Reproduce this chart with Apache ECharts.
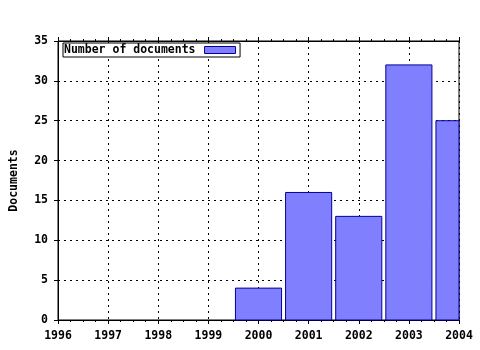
<!DOCTYPE html>
<html><head><meta charset="utf-8">
<script src="https://cdn.jsdelivr.net/npm/echarts@6/dist/echarts.min.js"></script>
<style>html,body{margin:0;padding:0;background:#fff}#c{width:480px;height:350px}</style>
</head><body><div id="c"></div>
<script>
const years = [2000, 2001, 2002, 2003, 2004];
const docs = [4, 16, 13, 32, 25];
const seriesName = 'Number of documents';
const yTitle = 'Documents';

const font = '"DejaVu Sans Mono", monospace';
const barFill = '#8080ff', barEdge = '#000099';
const chart = echarts.init(document.getElementById('c'));
const lbl = {color:'#000', fontFamily:font, fontWeight:'bold', fontSize:11.5};
chart.setOption({
  animation:false,
  backgroundColor:'#fff',
  grid:{left:58, right:21, top:41, bottom:30, show:true, borderColor:'#000', borderWidth:1,
        backgroundColor:'transparent', outerBoundsMode:'none', containLabel:false},
  legend:{
    show:true, left:63, top:43, orient:'horizontal', align:'right',
    padding:[1,4,1,1], borderColor:'#000', borderWidth:1, backgroundColor:'#fff',
    itemWidth:31, itemHeight:7, icon:'rect',
    itemStyle:{color:barFill, borderColor:barEdge, borderWidth:1},
    textStyle:{...lbl, padding:[0,4,0,0]},
    data:[seriesName]
  },
  xAxis:[{
    type:'value', min:1996, max:2004, interval:1,
    axisLine:{show:true, lineStyle:{color:'#000'}},
    axisTick:{show:true, length:4, lineStyle:{color:'#000'}},
    minorTick:{show:true, splitNumber:4, length:2, lineStyle:{color:'#000'}},
    axisLabel:{...lbl, margin:10, formatter:v=>String(v)},
    splitLine:{show:true, lineStyle:{color:'#000', type:[2,4], width:1}}
  },{
    type:'value', min:1996, max:2004, interval:1, position:'top',
    axisLine:{show:true, lineStyle:{color:'#000'}},
    axisTick:{show:true, length:4, lineStyle:{color:'#000'}},
    minorTick:{show:true, splitNumber:4, length:2, lineStyle:{color:'#000'}},
    axisLabel:{show:false}, splitLine:{show:false}
  }],
  yAxis:{
    type:'value', min:0, max:35, interval:5,
    name:yTitle, nameLocation:'middle', nameGap:38, nameRotate:90,
    nameTextStyle:{...lbl},
    axisLine:{show:true, lineStyle:{color:'#000'}},
    axisTick:{show:true, length:4, lineStyle:{color:'#000'}},
    axisLabel:{...lbl, margin:10},
    splitLine:{show:true, lineStyle:{color:'#000', type:[2,4], width:1}}
  },
  series:[{
    name:seriesName, type:'custom', xAxisIndex:0, yAxisIndex:0,
    itemStyle:{color:barFill, borderColor:barEdge, borderWidth:1},
    encode:{x:0, y:1},
    renderItem:function(params, api){
      const x = api.value(0), y = api.value(1);
      const p0 = api.coord([x, 0]), p1 = api.coord([x, y]);
      const w = api.size([0.92, 0])[0];
      const cs = params.coordSys;
      const r = echarts.graphic.clipRectByRect(
        {x:p0[0]-w/2, y:p1[1], width:w, height:p0[1]-p1[1]},
        {x:cs.x, y:cs.y, width:cs.width, height:cs.height});
      if (!r) return null;
      return {type:'rect', shape:r, style:api.style({fill:barFill, stroke:barEdge, lineWidth:1})};
    },
    data: years.map((y,i)=>[y, docs[i]])
  }]
});
</script></body></html>
